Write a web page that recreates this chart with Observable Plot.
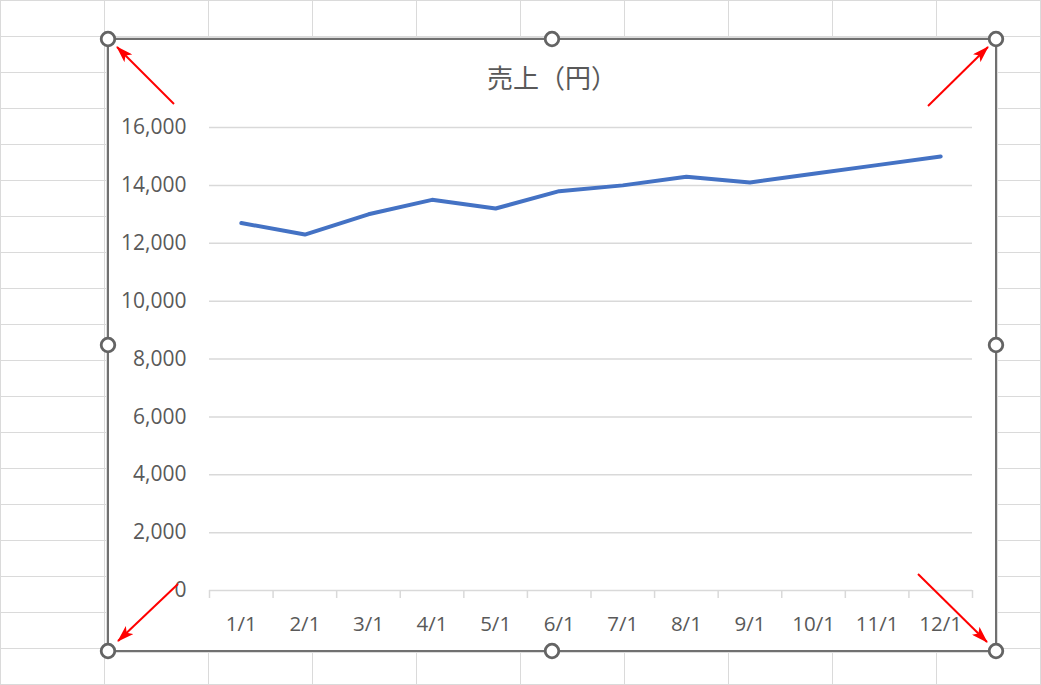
<!DOCTYPE html>
<html>
<head>
<meta charset="utf-8">
<script src="https://cdn.jsdelivr.net/npm/d3@7"></script>
<script src="https://cdn.jsdelivr.net/npm/@observablehq/plot@0.6"></script>
<style>
  html, body { margin: 0; padding: 0; background: #fff; }
  #sheet {
    position: relative; width: 1041px; height: 685px; overflow: hidden;
    background-color: #fff;
    background-image:
      linear-gradient(to right, #dadada 1px, transparent 1px),
      linear-gradient(to bottom, #dadada 1px, transparent 1px);
    background-size: 104px 36px;
  }
  #chart {
    position: absolute; left: 107px; top: 38px; width: 890px; height: 614px;
    box-sizing: border-box; border: 2px solid #707070; background: #fff;
    box-shadow: 0 0 0 1px #dcdcdc;
  }
  #title {
    position: absolute; left: 0; top: 21px; width: 100%; text-align: center;
    font-family: "Noto Sans CJK JP", "Noto Sans", sans-serif; font-size: 26px;
    line-height: 32px; color: #595959;
  }
  #plot { position: absolute; left: 0; top: 0; }
  #overlay { position: absolute; left: 0; top: 0; pointer-events: none; }
</style>
</head>
<body>
<div id="sheet">
  <div id="chart">
    <div id="title"></div>
    <div id="plot"></div>
  </div>
  <svg id="overlay" width="1041" height="685">
    <defs>
      <marker id="ah" viewBox="0 0 17 11" refX="16" refY="5.5" markerWidth="17" markerHeight="11" orient="auto" markerUnits="userSpaceOnUse">
        <path d="M0,0 L17,5.5 L0,11 L4,5.5 z" fill="#ff0000"></path>
      </marker>
    </defs>
    <g stroke="#ff0000" stroke-width="2" marker-end="url(#ah)">
      <line x1="174" y1="104" x2="117" y2="47"></line>
      <line x1="928" y1="106" x2="988" y2="47"></line>
      <line x1="178" y1="584" x2="118" y2="641"></line>
      <line x1="918" y1="574" x2="987" y2="642"></line>
    </g>
    <g fill="#fff" stroke="#646464" stroke-width="2.8">
      <circle cx="108" cy="39" r="6.8"></circle>
      <circle cx="552" cy="39" r="6.8"></circle>
      <circle cx="996" cy="39" r="6.8"></circle>
      <circle cx="108" cy="345" r="6.8"></circle>
      <circle cx="996" cy="345" r="6.8"></circle>
      <circle cx="108" cy="651" r="6.8"></circle>
      <circle cx="552" cy="651" r="6.8"></circle>
      <circle cx="996" cy="651" r="6.8"></circle>
    </g>
  </svg>
</div>
<script>
const title = "売上（円）";
const categories = ["1/1", "2/1", "3/1", "4/1", "5/1", "6/1", "7/1", "8/1", "9/1", "10/1", "11/1", "12/1"];
const sales = [12700, 12300, 13000, 13500, 13200, 13800, 14000, 14300, 14100, 14400, 14700, 15000];
const yTicks = [0, 2000, 4000, 6000, 8000, 10000, 12000, 14000, 16000];

document.getElementById("title").textContent = title;

const data = categories.map((c, i) => ({pos: i + 1, label: c, sales: sales[i]}));
const positions = data.map(d => d.pos);
const boundaries = d3.range(categories.length + 1).map(i => i + 0.5);

const chart = Plot.plot({
  width: 886,
  height: 610,
  marginLeft: 100,
  marginRight: 23,
  marginTop: 87,
  marginBottom: 60,
  style: {
    fontFamily: "'Open Sans', 'Noto Sans', sans-serif",
    fontSize: "20px",
    color: "#595959",
    background: "transparent"
  },
  x: {type: "linear", domain: [0.5, categories.length + 0.5]},
  y: {domain: [0, 16000]},
  marks: [
    Plot.ruleY(yTicks, {stroke: "#d9d9d9", strokeWidth: 1.5}),
    Plot.axisY({ticks: yTicks, tickSize: 0, tickPadding: 23, tickFormat: d3.format(","), label: null, fill: "#595959", fontSize: 21}),
    Plot.axisX({ticks: boundaries, tickSize: 8, tickFormat: () => "", label: null, stroke: "#d9d9d9", strokeWidth: 1.5}),
    Plot.axisX({ticks: positions, tickSize: 0, tickPadding: 26, tickFormat: p => categories[p - 1], label: null, fill: "#595959", fontSize: 20.5}),
    Plot.line(data, {x: "pos", y: "sales", stroke: "#4472C4", strokeWidth: 4, strokeLinecap: "round", strokeLinejoin: "round"})
  ]
});
document.getElementById("plot").appendChild(chart);
</script>
</body>
</html>
